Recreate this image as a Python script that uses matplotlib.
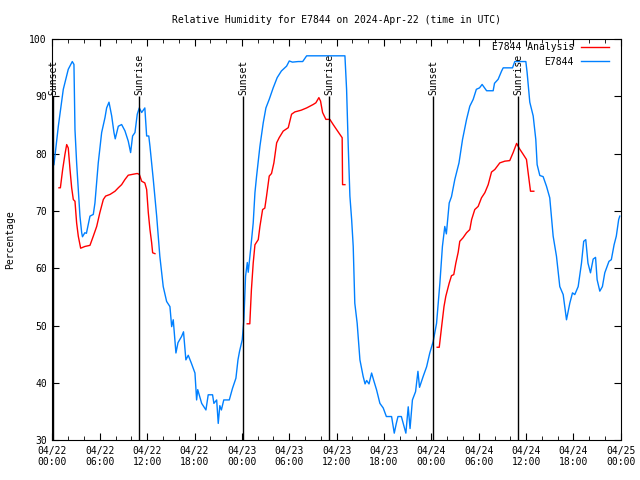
import matplotlib
matplotlib.use("Agg")
import matplotlib.pyplot as plt
from matplotlib.ticker import MultipleLocator

plt.rcParams['font.family'] = ['DejaVu Sans Mono']

# hours since 04/22 00:00 UTC
obs_hours = [0.19, 0.74, 1.37, 2.0, 2.51, 2.72, 2.85, 3.06, 3.27, 3.48, 3.7, 3.8, 4.1, 4.3, 4.75,
             5.17, 5.38, 5.8, 6.23, 6.65, 6.86, 7.16, 7.5, 7.79, 7.95, 8.34, 8.76, 9.18, 9.6, 9.9,
             10.15, 10.45, 10.74, 11.0, 11.3, 11.7, 11.93, 12.2, 12.35, 12.77, 13.2, 13.6, 14.03,
             14.46, 14.88, 15.1, 15.3, 15.64, 15.9, 16.36, 16.6, 16.9, 17.2, 17.6, 18.05, 18.26,
             18.4, 18.9, 19.44, 19.73, 20.28, 20.45, 20.8, 21.0, 21.2, 21.4, 21.7, 22.4, 22.8,
             23.24, 23.5, 23.7, 24.04, 24.25, 24.46, 24.68, 24.8, 25.1, 25.43, 25.65, 25.86,
             26.28, 26.7, 27.04, 27.46, 27.96, 28.47, 29.0, 29.66, 30.0, 30.4, 31.13, 31.7,
             32.2, 37.05, 37.26, 37.47, 37.68, 37.9, 38.1, 38.3, 38.6, 38.95, 39.36, 39.6, 39.8,
             40.1, 40.43, 40.7, 41.06, 41.48, 41.9, 42.3, 42.96, 43.3, 43.56, 43.77, 44.2, 44.77,
             45.07, 45.3, 45.6, 46.0, 46.3, 46.5, 46.96, 47.4, 47.8, 48.23, 48.66, 49.08, 49.4,
             49.7, 49.9, 50.26, 50.55, 50.97, 51.5, 51.95, 52.46, 52.87, 53.3, 53.7, 54.1, 54.43,
             55.0, 55.83, 56.0, 56.46, 56.9, 57.1, 58.28, 58.57, 59.97, 60.13, 60.47, 60.9,
             61.23, 61.4, 61.74, 62.16, 62.59, 63.0, 63.43, 63.85, 64.27, 64.7, 65.12, 65.54,
             65.88, 66.17, 66.6, 67.02, 67.3, 67.56, 67.84, 68.16, 68.5, 68.8, 69.0, 69.34,
             69.67, 69.97, 70.5, 70.8, 71.15, 71.43, 71.73, 71.87]
obs_rh = [78.1, 84.8, 91.25, 94.75, 96.1, 95.6, 84.2, 78.4, 73.75, 69.1, 66.2, 65.5, 66.2, 66.1, 69.1,
          69.4, 71.4, 78.4, 83.7, 86.3, 88.0, 89.0, 86.6, 83.7, 82.6, 84.8, 85.1, 84.0, 82.2, 80.2,
          83.1, 83.7, 86.9, 88.0, 87.2, 88.0, 83.1, 83.1, 81.3, 75.5, 69.1, 62.1, 56.8,
          54.2, 53.3, 49.8, 51.0, 45.2, 47.0, 48.1, 48.9, 44.0, 44.8, 43.4, 41.7, 37.0,
          38.8, 36.4, 35.25, 37.9, 37.9, 36.4, 37.0, 32.9, 36.0, 35.25, 37.0, 37.0, 39.0,
          40.8, 44.0, 45.5, 47.5, 51.0, 58.6, 61.0, 59.3, 63.25, 67.9, 73.2, 76.1,
          81.3, 85.4, 88.0, 89.5, 91.5, 93.3, 94.45, 95.3, 96.2, 96.0, 96.1, 96.1,
          97.1, 97.1, 91.25, 81.3, 72.6, 68.5, 63.8, 53.9, 50.4, 44.0, 41.1, 39.8, 40.4,
          39.8, 41.7, 40.4, 38.75, 36.4, 35.6, 34.1, 34.1, 31.2, 32.9, 34.1, 34.1, 31.2,
          35.8, 32.0, 37.0, 38.45, 42.0, 39.2, 41.1, 42.8, 45.2, 47.2, 50.4, 57.4, 63.8,
          67.3, 66.0, 71.4, 72.5, 75.5, 78.4, 82.5, 86.0, 88.3, 89.5, 91.25, 91.5, 92.1,
          91.0, 91.0, 92.3, 93.0, 94.45, 95.0, 95.0, 96.1, 96.1, 94.2, 89.0, 86.6,
          82.5, 78.1, 76.2, 76.0, 74.3, 72.3, 65.6, 62.1, 56.8, 55.4, 51.0, 53.9,
          55.7, 55.4, 56.8, 60.9, 64.7, 65.0, 60.9, 59.2, 61.6, 61.9, 58.0, 56.0,
          56.8, 59.2, 61.2, 61.5, 64.1, 65.6, 68.5, 69.1]

# analysis runs, one list per day
ana_hours = [
    [0.82, 1.0, 1.29, 1.58, 1.8, 2.0, 2.22, 2.43, 2.64, 2.85, 3.06, 3.27, 3.57, 4.1, 4.75, 5.17,
     5.6, 6.0, 6.44, 6.73, 7.3, 7.92, 8.34, 8.76, 9.18, 9.6, 10.15, 10.74, 11.0, 11.3, 11.7,
     11.93, 12.14, 12.35, 12.56, 12.69, 12.98],
    [24.67, 25.0, 25.1, 25.2, 25.43, 25.65, 26.07, 26.28, 26.62, 26.9, 27.12, 27.46, 27.75,
     28.05, 28.4, 28.72, 29.23, 29.87, 30.29, 30.7, 31.5, 32.2, 33.03, 33.37, 33.75, 33.96,
     34.22, 34.64, 35.14, 35.56, 35.98, 36.4, 36.7, 36.75, 37.05],
    [48.74, 49.0, 49.3, 49.6, 49.83, 50.26, 50.55, 50.84, 51.1, 51.4, 51.6, 52.0, 52.46, 52.87,
     53.1, 53.5, 53.93, 54.35, 54.78, 55.2, 55.62, 56.04, 56.67, 57.3, 57.93, 58.36, 58.8,
     59.2, 59.63, 60.05, 60.26, 60.56, 60.98],
]
ana_rh = [
    [74.05, 74.05, 77.25, 79.9, 81.6, 81.0, 77.25, 74.05, 72.0, 71.7, 67.9, 65.6, 63.5, 63.8,
     64.0, 65.6, 67.3, 69.7, 72.0, 72.6, 72.9, 73.45, 74.05, 74.6, 75.5, 76.25, 76.4, 76.55,
     76.4, 75.2, 74.9, 73.75, 69.7, 66.75, 64.5, 62.7, 62.55],
    [50.3, 50.3, 53.3, 56.2, 60.9, 64.1, 65.0, 67.3, 70.25, 70.5, 72.6, 76.1, 76.55, 78.4,
     81.9, 82.8, 83.95, 84.55, 86.9, 87.3, 87.6, 88.0, 88.6, 88.9, 89.8, 89.2, 87.2, 86.0,
     86.0, 85.1, 84.25, 83.4, 82.8, 74.6, 74.6],
    [46.2, 46.2, 49.8, 53.3, 55.1, 57.4, 58.7, 58.9, 60.9, 62.8, 64.7, 65.3, 66.2, 66.75,
     68.5, 70.25, 70.8, 72.3, 73.2, 74.6, 76.8, 77.25, 78.4, 78.7, 78.8, 80.2, 81.8, 80.8,
     79.9, 79.0, 76.7, 73.45, 73.45],
]

sun_hours = [0.12, 11.0, 24.17, 35.06, 48.23, 59.0]
sun_labels = ['Sunset', 'Sunrise', 'Sunset', 'Sunrise', 'Sunset', 'Sunrise']

tick_hours = [0, 6, 12, 18, 24, 30, 36, 42, 48, 54, 60, 66, 72]
tick_labels = ['04/22\n00:00', '04/22\n06:00', '04/22\n12:00', '04/22\n18:00',
               '04/23\n00:00', '04/23\n06:00', '04/23\n12:00', '04/23\n18:00',
               '04/24\n00:00', '04/24\n06:00', '04/24\n12:00', '04/24\n18:00',
               '04/25\n00:00']

fs = 7

fig = plt.figure(figsize=(6.4, 4.8), dpi=100)
ax = fig.add_axes([0.082, 0.0833, 0.888, 0.835])

for i, seg_h in enumerate(ana_hours):
    ax.plot(seg_h, ana_rh[i], color='#ff0000', lw=1,
            label='E7844 Analysis' if i == 0 else None)
ax.plot(obs_hours, obs_rh, color='#0080ff', lw=1, label='E7844')

for h, lab in zip(sun_hours, sun_labels):
    ax.vlines(h, 30, 90, color='black', lw=1)
    ax.text(h, 90.3, lab, rotation=90, ha='center', va='bottom', fontsize=fs)

ax.set_xlim(0, 72)
ax.set_ylim(30, 100)
ax.set_xticks(tick_hours)
ax.set_xticklabels(tick_labels)
ax.xaxis.set_minor_locator(MultipleLocator(2))
ax.set_yticks(range(30, 101, 10))
ax.tick_params(which='both', direction='in', top=True, right=True, labelsize=fs)
ax.tick_params(which='major', length=5, pad=4)
ax.tick_params(which='minor', length=3)
ax.set_ylabel('Percentage', fontsize=fs, labelpad=10)
ax.set_title('Relative Humidity for E7844 on 2024-Apr-22 (time in UTC)', fontsize=fs, pad=12)

ax.legend(loc='upper right', bbox_to_anchor=(1 - 12 / 568.5, 1 - 3 / 400),
          frameon=False, markerfirst=False, fontsize=fs,
          handlelength=2.9, borderaxespad=0, borderpad=0, labelspacing=0.45,
          handletextpad=0.7)

fig.savefig('out.png', dpi=100)
